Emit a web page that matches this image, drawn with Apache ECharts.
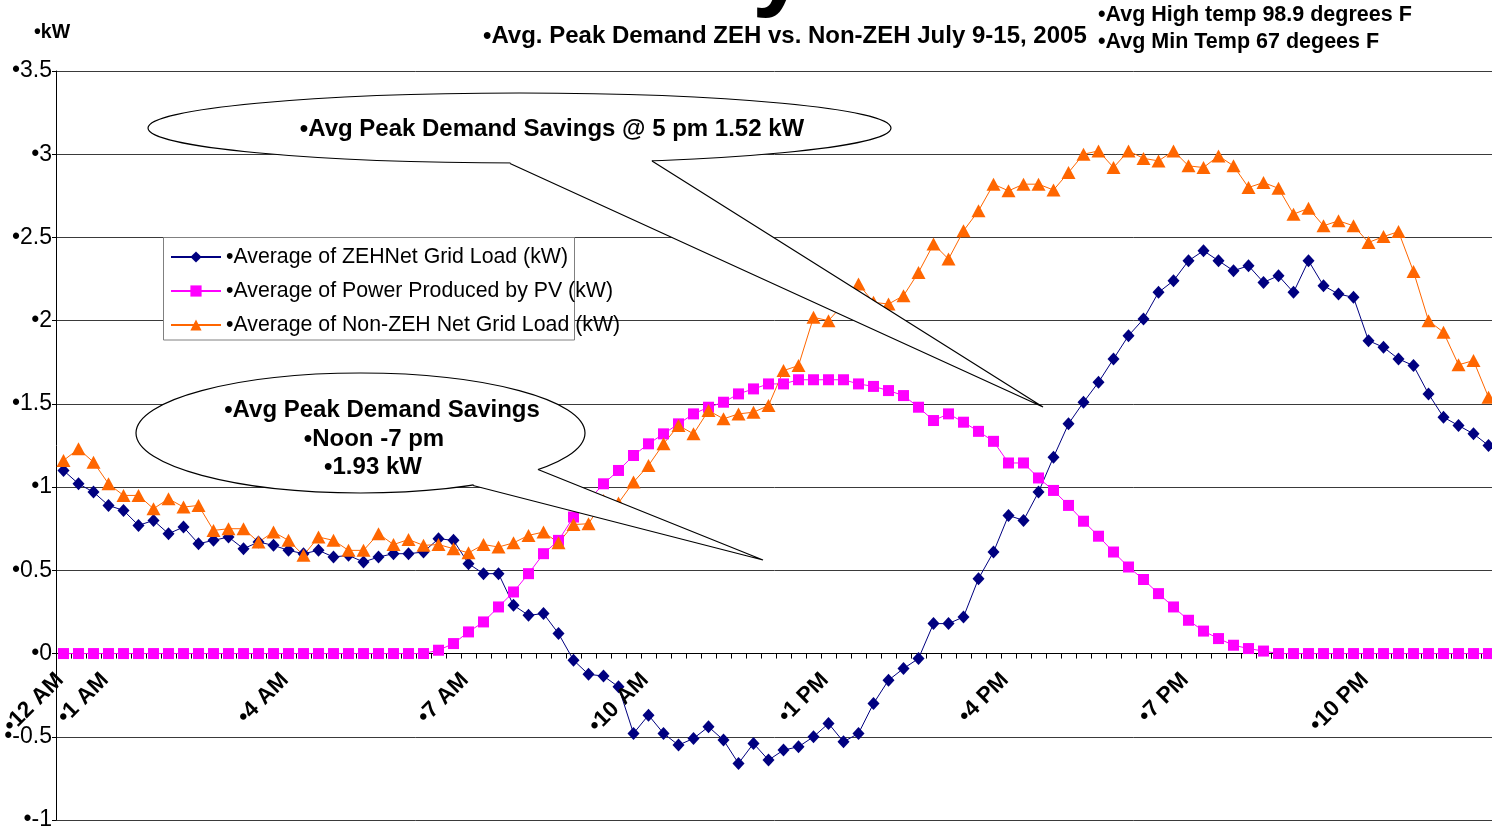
<!DOCTYPE html>
<html><head><meta charset="utf-8">
<script src="https://cdn.jsdelivr.net/npm/echarts@6/dist/echarts.min.js"></script>
<style>html,body{margin:0;padding:0;background:#fff;}#chart{width:1492px;height:829px;}</style>
</head><body><div id="chart"></div>
<script>
const FONT = "'Liberation Sans', Arial, sans-serif";

const seriesNames = [
  '•Average of ZEHNet Grid Load (kW)',
  '•Average of Power Produced by PV (kW)',
  '•Average of Non-ZEH Net Grid Load (kW)'
];

// 96 quarter-hour readings per series
const zehNet = [1.10,1.02,0.97,0.89,0.86,0.77,0.80,0.72,0.76,0.66,
  0.68,0.70,0.63,0.67,0.65,0.62,0.60,0.62,0.58,0.59,
  0.55,0.58,0.60,0.60,0.61,0.69,0.68,0.54,0.48,0.48,
  0.29,0.23,0.24,0.12,-0.04,-0.125,-0.135,-0.20,-0.48,-0.37,
  -0.48,-0.55,-0.51,-0.44,-0.52,-0.66,-0.54,-0.64,-0.58,-0.56,
  -0.50,-0.42,-0.53,-0.48,-0.30,-0.16,-0.09,-0.03,0.18,0.18,
  0.22,0.45,0.61,0.83,0.80,0.97,1.18,1.38,1.51,1.63,
  1.77,1.91,2.01,2.17,2.24,2.36,2.42,2.36,2.30,2.33,
  2.23,2.27,2.17,2.36,2.21,2.16,2.14,1.88,1.84,1.77,
  1.73,1.56,1.42,1.37,1.32,1.25];

const pvPower = [0,0,0,0,0,0,0,0,0,0,
  0,0,0,0,0,0,0,0,0,0,
  0,0,0,0,0,0.02,0.06,0.13,0.19,0.28,
  0.37,0.48,0.60,0.68,0.82,0.92,1.02,1.10,1.19,1.26,
  1.32,1.38,1.44,1.48,1.51,1.56,1.59,1.62,1.62,1.645,
  1.645,1.645,1.645,1.62,1.605,1.58,1.55,1.48,1.40,1.44,
  1.39,1.335,1.275,1.145,1.145,1.055,0.98,0.89,0.795,0.705,
  0.61,0.52,0.445,0.36,0.28,0.20,0.135,0.09,0.05,0.03,
  0.015,0,0,0,0,0,0,0,0,0,
  0,0,0,0,0,0];

const nonZehNet = [1.16,1.23,1.15,1.02,0.95,0.95,0.87,0.93,0.88,0.89,
  0.74,0.75,0.75,0.67,0.73,0.68,0.59,0.70,0.68,0.62,
  0.62,0.72,0.655,0.685,0.65,0.655,0.63,0.605,0.655,0.64,
  0.665,0.71,0.73,0.665,0.775,0.78,0.92,0.905,1.03,1.13,
  1.26,1.37,1.32,1.46,1.41,1.44,1.45,1.49,1.70,1.73,
  2.02,2.00,2.10,2.22,2.11,2.10,2.15,2.29,2.46,2.37,
  2.54,2.66,2.82,2.78,2.82,2.82,2.785,2.89,3.00,3.02,
  2.92,3.02,2.975,2.96,3.02,2.93,2.92,2.99,2.93,2.80,
  2.83,2.795,2.64,2.675,2.57,2.60,2.57,2.47,2.505,2.535,
  2.295,2.00,1.93,1.735,1.76,1.54];

// x tick labels and the tick-mark slot (0..96) each one sits on
const tickLabels = ['•12 AM','•1 AM','•4 AM','•7 AM','•10 AM','•1 PM','•4 PM','•7 PM','•10 PM'];
const tickLabelSlots = [0,3,15,27,39,51,63,75,87];
const slotCount = 96;

const titleText = '•Avg. Peak Demand ZEH vs. Non-ZEH July 9-15, 2005';
const tempHigh = '•Avg High temp 98.9 degrees F';
const tempMin = '•Avg Min Temp 67 degees F';
const unitText = '•kW';
const callout1 = '•Avg Peak Demand Savings @ 5 pm 1.52 kW';
const callout2 = ['•Avg Peak Demand Savings', '•Noon -7 pm', '•1.93 kW'];

// each reading is drawn in the middle of its quarter-hour slot
function toPoints(arr) { return arr.map(function (v, i) { return [i + 0.5, v]; }); }

const chart = echarts.init(document.getElementById('chart'), null, {renderer: 'canvas'});

function txt(text, x, y, size, weight, align) {
  return {type: 'text', z: 20, style: {text: text, x: x, y: y, fill: '#000',
    font: (weight || 'normal') + ' ' + size + 'px ' + FONT,
    textAlign: align || 'left', textVerticalAlign: 'middle'}};
}

function balloon(cx, cy, rx, ry, A, B, tip, inner) {
  return [
    {type: 'ellipse', z: 10, shape: {cx: cx, cy: cy, rx: rx, ry: ry},
      style: {fill: '#fff', stroke: '#000', lineWidth: 1.2}},
    {type: 'polygon', z: 11, shape: {points: [A, tip, B].concat(inner)},
      style: {fill: '#fff', stroke: null}},
    {type: 'polyline', z: 12, shape: {points: [A, tip, B]},
      style: {fill: null, stroke: '#000', lineWidth: 1.2}}
  ];
}

const graphics = [].concat(
  [{type: 'rect', z: 3, shape: {x: 163.5, y: 237.5, width: 411, height: 102.5},
    style: {fill: '#fff', stroke: '#808080', lineWidth: 1}}],
  balloon(519.5, 128, 371.5, 35, [510, 163.5], [652, 161], [1043, 407], [[645, 148], [517, 148]]),
  balloon(360.5, 433, 224.5, 60, [473, 485.5], [538, 469.5], [763, 560], [[528, 458], [480, 472]]),
  [
    txt(callout1, 552, 129, 24, 'bold', 'center'),
    txt(callout2[0], 382, 410, 24, 'bold', 'center'),
    txt(callout2[1], 374, 439, 24, 'bold', 'center'),
    txt(callout2[2], 373, 467, 24, 'bold', 'center'),
    txt(titleText, 483, 36, 24, 'bold', 'left'),
    txt(tempHigh, 1098, 15, 21.5, 'bold', 'left'),
    txt(tempMin, 1098, 42, 21.5, 'bold', 'left'),
    txt(unitText, 34, 33, 19.5, 'bold', 'left'),
    {type: 'text', z: 20, style: {text: 'y', x: 752, y: -31, fill: '#000',
      font: 'bold 100px ' + FONT, textAlign: 'left', textVerticalAlign: 'middle'}}
  ]
);

const option = {
  animation: false,
  backgroundColor: '#fff',
  grid: {left: 56, right: -4, top: 71, bottom: 9, containLabel: false, outerBoundsMode: 'none'},
  legend: {
    orient: 'vertical', left: 170, top: 245, padding: 0,
    itemWidth: 50, itemHeight: 14, itemGap: 10,
    textStyle: {fontSize: 21.3, fontFamily: FONT, color: '#000', lineHeight: 24},
    data: seriesNames, selectedMode: false, z: 5
  },
  xAxis: {
    type: 'value', min: 0, max: slotCount, interval: 1,
    axisLine: {onZero: true, lineStyle: {color: '#000', width: 1}},
    axisTick: {show: true, length: 5, lineStyle: {color: '#000'}},
    splitLine: {show: false},
    axisLabel: {show: false}
  },
  yAxis: {
    type: 'value', min: -1, max: 3.5, interval: 0.5,
    axisLine: {show: true, lineStyle: {color: '#000', width: 1}},
    axisTick: {show: true, length: 4, lineStyle: {color: '#000'}},
    axisLabel: {margin: 4, fontSize: 23, fontFamily: FONT, color: '#000',
      formatter: function (v) { return '•' + v; }},
    splitLine: {show: true, lineStyle: {color: '#3a3a3a', width: 1}}
  },
  series: [
    {name: seriesNames[0], type: 'line', data: toPoints(zehNet),
      symbol: 'diamond', symbolSize: [12, 13], showAllSymbol: true,
      lineStyle: {color: '#000080', width: 1}, itemStyle: {color: '#000080'}, emphasis: {disabled: true}},
    {name: seriesNames[1], type: 'line', data: toPoints(pvPower),
      symbol: 'rect', symbolSize: 11, showAllSymbol: true,
      lineStyle: {color: '#FF00FF', width: 1}, itemStyle: {color: '#FF00FF'}, emphasis: {disabled: true}},
    {name: seriesNames[2], type: 'line', data: toPoints(nonZehNet),
      symbol: 'triangle', symbolSize: [14, 13], showAllSymbol: true,
      lineStyle: {color: '#FF6600', width: 1}, itemStyle: {color: '#FF6600'}, emphasis: {disabled: true}}
  ],
  graphic: graphics
};
chart.setOption(option);

// rotated x tick labels placed through the x scale at their tick slots
const labelMargin = 23, labelShift = 4;
const tickTexts = tickLabelSlots.map(function (slot, k) {
  const p = chart.convertToPixel({gridIndex: 0}, [slot, 0]);
  return {type: 'text', z: 20, x: p[0] + labelShift, y: p[1] + labelMargin, rotation: Math.PI / 4,
    style: {text: tickLabels[k], x: 0, y: 0, fill: '#000',
      font: 'bold 22.5px ' + FONT, textAlign: 'right', textVerticalAlign: 'middle'}};
});
chart.setOption({graphic: graphics.concat(tickTexts)}, {replaceMerge: ['graphic']});
</script>
</body></html>
